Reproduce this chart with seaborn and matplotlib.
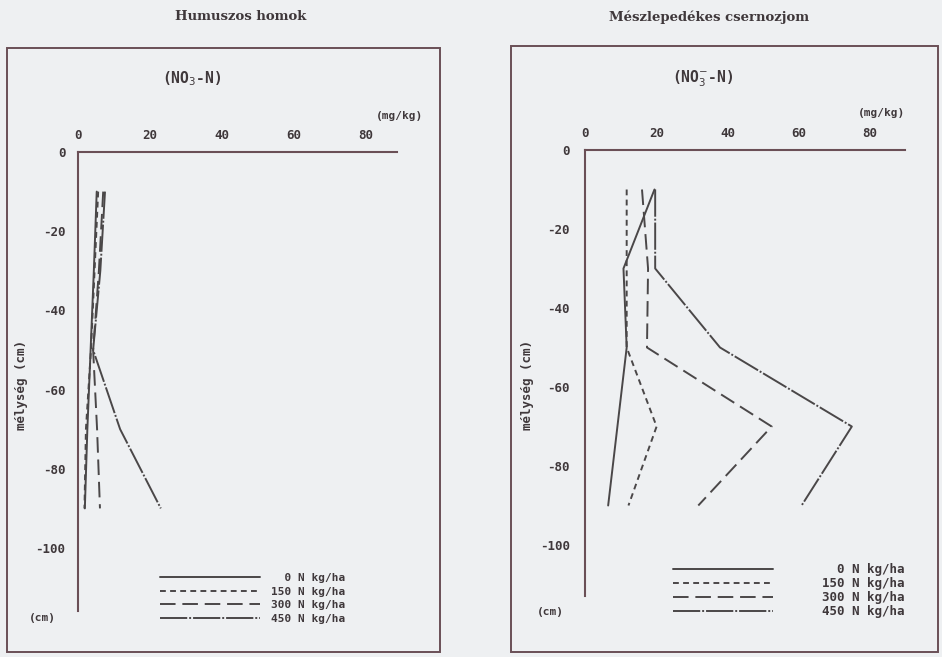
import matplotlib
matplotlib.use("Agg")
import matplotlib.pyplot as plt
import pandas as pd
import seaborn as sns
from matplotlib.patches import Rectangle

# ---------------- data ----------------
depths = [-10, -30, -50, -70, -90]
doses = ["0 N kg/ha", "150 N kg/ha", "300 N kg/ha", "450 N kg/ha"]

homok_0 = [5.2, 4.4, 3.5, 2.6, 1.9]
homok_150 = [5.6, 4.6, 3.6, 2.2, 1.8]
homok_300 = [7.0, 5.8, 4.2, 5.3, 6.1]
homok_450 = [7.5, 6.2, 4.2, 11.7, 23.0]

csern_0 = [19.5, 10.8, 11.7, 9.1, 6.5]
csern_150 = [11.7, 11.7, 11.7, 20.1, 12.2]
csern_300 = [16.0, 17.7, 17.4, 52.4, 31.8]
csern_450 = [19.7, 19.7, 37.9, 74.9, 60.8]

x_ticks = [0, 20, 40, 60, 80]
y_ticks = [0, -20, -40, -60, -80, -100]
titles = ["Humuszos homok", "Mészlepedékes csernozjom"]
units_x = "(mg/kg)"
units_y = "(cm)"
ylabel = "mélység (cm)"
quantity = [r"(NO$_3$-N)", r"(NO$_3^{-}$-N)"]

# ---------------- style ----------------
W, H = 942, 657
BG = "#eef0f2"
INK = "#3f383b"
LINE = "#4a4748"
AXC = "#6a4f56"
MONO = ["DejaVu Sans Mono"]

sns.set_style("white")
plt.rcParams["font.family"] = MONO
plt.rcParams["mathtext.fontset"] = "dejavusans"

fig = plt.figure(figsize=(W / 100, H / 100), dpi=100, facecolor=BG)


def frac_rect(x0, y0, x1, y1):
    return [x0 / W, 1 - y1 / H, (x1 - x0) / W, (y1 - y0) / H]


def ftext(x, y, s, **kw):
    fig.text(x / W, 1 - y / H, s, **kw)


def make_df(vals):
    rows = []
    for dose, series in zip(doses, vals):
        for d, v in zip(depths, series):
            rows.append({"value": v, "depth": d, "dose": dose})
    return pd.DataFrame(rows)


dash_map = {"0 N kg/ha": "", "150 N kg/ha": (3, 2.2),
            "300 N kg/ha": (8, 3.5), "450 N kg/ha": (14, 1.0, 1.0, 1.0)}
pal = {d: LINE for d in doses}
leg_labels = ["  0 N kg/ha", "150 N kg/ha", "300 N kg/ha", "450 N kg/ha"]

panels = [
    dict(vals=[homok_0, homok_150, homok_300, homok_450],
         px0=78, pxu=3.6, py0=152, pyu=3.96, ax_rect=(20, 95, 435, 640),
         yend=-116, xend=88.6, frame=(7, 48, 440, 652),
         title_xy=(241, 17), q_xy=(192, 79), u_xy=(400, 116), cm_xy=(42, 618),
         yl_xy=(22, 385), ypad=9, leg_xy=(160, 573), leg_fs=8, leg_pad=1.0,
         leg_hl=9.0, leg_ls=0.33),
    dict(vals=[csern_0, csern_150, csern_300, csern_450],
         px0=585, pxu=3.5625, py0=150, pyu=3.95, ax_rect=(520, 95, 935, 640),
         yend=-113, xend=89.8, frame=(511, 46, 938, 652),
         title_xy=(709, 17), q_xy=(703, 79), u_xy=(882, 113), cm_xy=(550, 612),
         yl_xy=(527, 385), ypad=11, leg_xy=(673, 563), leg_fs=9, leg_pad=3.9,
         leg_hl=8.0, leg_ls=0.08),
]

for i, p in enumerate(panels):
    fx0, fy0, fx1, fy1 = p["frame"]
    fig.patches.append(Rectangle((fx0 / W, 1 - fy1 / H), (fx1 - fx0) / W,
                                 (fy1 - fy0) / H, transform=fig.transFigure,
                                 fill=False, edgecolor=AXC, linewidth=1.4))
    x0, y0, x1, y1 = p["ax_rect"]
    ax = fig.add_axes(frac_rect(x0, y0, x1, y1))
    ax.set_facecolor("none")
    df = make_df(p["vals"])
    sns.lineplot(data=df, x="value", y="depth", hue="dose", style="dose",
                 palette=pal, dashes=dash_map, sort=False, estimator=None,
                 linewidth=1.4, legend=False, ax=ax)
    ax.set_xlim((x0 - p["px0"]) / p["pxu"], (x1 - p["px0"]) / p["pxu"])
    ax.set_ylim(-(y1 - p["py0"]) / p["pyu"], (p["py0"] - y0) / p["pyu"])
    for s in ["right", "bottom"]:
        ax.spines[s].set_visible(False)
    ax.spines["left"].set_position(("data", 0))
    ax.spines["left"].set_bounds(p["yend"], 0)
    ax.spines["top"].set_position(("data", 0))
    ax.spines["top"].set_bounds(0, p["xend"])
    for s in ["left", "top"]:
        ax.spines[s].set_color(AXC)
        ax.spines[s].set_linewidth(1.5)
    ax.xaxis.set_ticks_position("top")
    ax.set_xticks(x_ticks)
    ax.set_xticklabels([str(t) for t in x_ticks], fontweight="bold")
    ax.set_yticks(y_ticks)
    ax.set_yticklabels([str(t) for t in y_ticks], fontweight="bold")
    ax.tick_params(axis="x", length=0, pad=7, labelsize=9, labelcolor=INK)
    ax.tick_params(axis="y", direction="in", length=3, width=0.8, color=AXC,
                   pad=p["ypad"], labelsize=9, labelcolor=INK)
    ax.set_xlabel("")
    ax.set_ylabel("")
    ax.grid(False)

    handles = ax.get_lines()[:4]
    lx, ly = p["leg_xy"]
    ax.legend(handles, leg_labels, loc="upper left",
              bbox_to_anchor=(lx / W, 1 - ly / H), bbox_transform=fig.transFigure,
              frameon=False, borderpad=0, borderaxespad=0, handlelength=p["leg_hl"],
              handletextpad=p["leg_pad"], labelspacing=p["leg_ls"],
              prop={"family": MONO, "size": p["leg_fs"], "weight": "bold"},
              labelcolor=INK)

    ftext(*p["title_xy"], titles[i], ha="center", va="center",
          family=["DejaVu Serif"], fontweight="bold", fontsize=9.5, color=INK)
    ftext(*p["q_xy"], quantity[i], ha="center", va="center", fontsize=10.5,
          color=INK, fontweight="bold")
    ftext(*p["u_xy"], units_x, ha="center", va="center", fontsize=8,
          color=INK, fontweight="bold")
    ftext(*p["cm_xy"], units_y, ha="center", va="center", fontsize=8,
          color=INK, fontweight="bold")
    ftext(*p["yl_xy"], ylabel, ha="center", va="center", rotation=90,
          fontsize=9, color=INK, fontweight="bold")

fig.savefig("out.png", dpi=100, facecolor=BG)
